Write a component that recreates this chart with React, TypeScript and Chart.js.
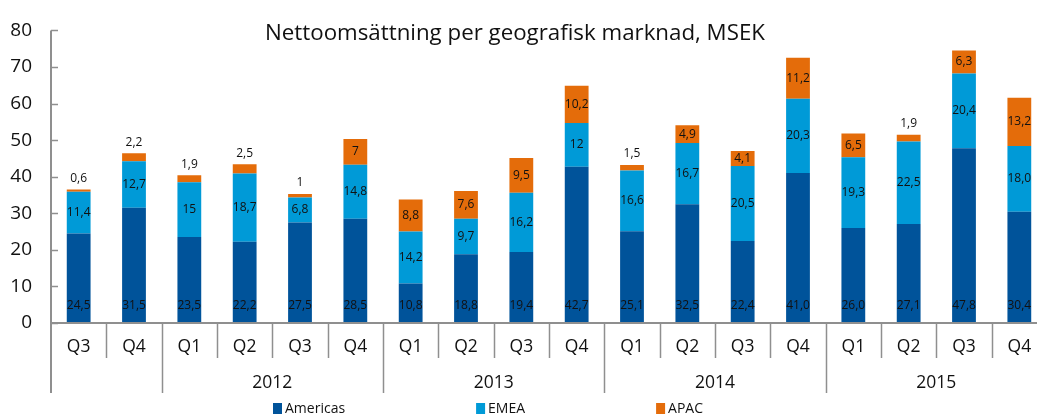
import React, { useEffect, useRef } from "react";
import { Chart, registerables } from "chart.js";

Chart.register(...registerables);

const quarters = ["Q3", "Q4", "Q1", "Q2", "Q3", "Q4", "Q1", "Q2", "Q3", "Q4", "Q1", "Q2", "Q3", "Q4", "Q1", "Q2", "Q3", "Q4"];
const years = ["", "", "2012", "2012", "2012", "2012", "2013", "2013", "2013", "2013", "2014", "2014", "2014", "2014", "2015", "2015", "2015", "2015"];
const americas = [24.5, 31.5, 23.5, 22.2, 27.5, 28.5, 10.8, 18.8, 19.4, 42.7, 25.1, 32.5, 22.4, 41.0, 26.0, 27.1, 47.8, 30.4];
const emea = [11.4, 12.7, 15, 18.7, 6.8, 14.8, 14.2, 9.7, 16.2, 12, 16.6, 16.7, 20.5, 20.3, 19.3, 22.5, 20.4, 18.0];
const apac = [0.6, 2.2, 1.9, 2.5, 1, 7, 8.8, 7.6, 9.5, 10.2, 1.5, 4.9, 4.1, 11.2, 6.5, 1.9, 6.3, 13.2];
const americasLabels = ["24,5", "31,5", "23,5", "22,2", "27,5", "28,5", "10,8", "18,8", "19,4", "42,7", "25,1", "32,5", "22,4", "41,0", "26,0", "27,1", "47,8", "30,4"];
const emeaLabels = ["11,4", "12,7", "15", "18,7", "6,8", "14,8", "14,2", "9,7", "16,2", "12", "16,6", "16,7", "20,5", "20,3", "19,3", "22,5", "20,4", "18,0"];
const apacLabels = ["0,6", "2,2", "1,9", "2,5", "1", "7", "8,8", "7,6", "9,5", "10,2", "1,5", "4,9", "4,1", "11,2", "6,5", "1,9", "6,3", "13,2"];
const seriesNames = ["Americas", "EMEA", "APAC"];
const yTicks = [0, 10, 20, 30, 40, 50, 60, 70, 80];
const title = "Nettoomsättning per geografisk marknad, MSEK";

const COLORS = ["#00539a", "#009ad7", "#e46c0a"];
const FONT = "'Open Sans', 'DejaVu Sans', sans-serif";
const AXIS = "#8f8f8f";

const customPlugin = {
  id: "custom",
  afterDraw(chart: any) {
    const ctx = chart.ctx;
    const { left, right, top, bottom } = chart.chartArea;
    const xs = chart.scales.x;
    const ys = chart.scales.y;
    ctx.save();

    // title
    ctx.fillStyle = "#111";
    ctx.font = `22.3px ${FONT}`;
    ctx.textAlign = "center";
    ctx.textBaseline = "alphabetic";
    ctx.fillText(title, 515, 40);

    // axis lines
    ctx.strokeStyle = AXIS;
    ctx.lineWidth = 2;
    ctx.beginPath();
    ctx.moveTo(left, bottom);
    ctx.lineTo(right, bottom);
    ctx.moveTo(left, top);
    ctx.lineTo(left, 393);
    ctx.stroke();

    // inner y ticks
    ctx.lineWidth = 1.5;
    ctx.beginPath();
    yTicks.forEach((v) => {
      const y = Math.round(ys.getPixelForValue(v)) + 0.5;
      ctx.moveTo(left, y);
      ctx.lineTo(left + 7, y);
    });
    ctx.stroke();

    // category separators
    const n = quarters.length;
    const step = xs.getPixelForValue(1) - xs.getPixelForValue(0);
    ctx.lineWidth = 1.5;
    ctx.beginPath();
    for (let i = 1; i < n; i++) {
      const x = Math.round(xs.getPixelForValue(i) - step / 2) + 0.5;
      const longLine = years[i] !== years[i - 1];
      ctx.moveTo(x, bottom);
      ctx.lineTo(x, longLine ? 393 : 358);
    }
    ctx.stroke();

    // quarter labels
    ctx.fillStyle = "#111";
    ctx.font = `17.5px ${FONT}`;
    ctx.textAlign = "center";
    for (let i = 0; i < n; i++) {
      ctx.fillText(quarters[i], xs.getPixelForValue(i), 352);
    }
    // year labels
    let start = 0;
    for (let i = 1; i <= n; i++) {
      if (i === n || years[i] !== years[start]) {
        if (years[start]) {
          const x = (xs.getPixelForValue(start) + xs.getPixelForValue(i - 1)) / 2;
          ctx.fillText(years[start], x, 388);
        }
        start = i;
      }
    }

    // data labels
    ctx.font = `12px ${FONT}`;
    ctx.textBaseline = "middle";
    ctx.fillStyle = "#111";
    const labelSets = [americasLabels, emeaLabels, apacLabels];
    const valueSets = [americas, emea, apac];
    for (let d = 0; d < 3; d++) {
      const meta = chart.getDatasetMeta(d);
      meta.data.forEach((bar: any, i: number) => {
        const { x, y, base } = bar.getProps(["x", "y", "base"], true);
        let ly;
        if (d === 0) ly = base - 17;
        else if (d === 1) ly = (y + base) / 2;
        else ly = valueSets[d][i] < 4 ? y - 11 : (y + base) / 2;
        ctx.fillText(labelSets[d][i], x, ly);
      });
    }

    // legend
    ctx.font = `14px ${FONT}`;
    ctx.textAlign = "left";
    ctx.textBaseline = "alphabetic";
    let lx = 273;
    for (let d = 0; d < 3; d++) {
      ctx.fillStyle = COLORS[d];
      ctx.fillRect(lx, 403, 9, 13);
      ctx.fillStyle = "#111";
      ctx.fillText(seriesNames[d], lx + 12, 413);
      lx += 12 + ctx.measureText(seriesNames[d]).width + 131;
    }

    ctx.restore();
  },
};

export default function App() {
  const ref = useRef<HTMLCanvasElement | null>(null);
  useEffect(() => {
    if (!ref.current) return;
    const chart = new Chart(ref.current, {
      type: "bar",
      data: {
        labels: quarters.map((q, i) => `${q} ${years[i]}`),
        datasets: [
          { label: seriesNames[0], data: americas, backgroundColor: COLORS[0] },
          { label: seriesNames[1], data: emea, backgroundColor: COLORS[1] },
          { label: seriesNames[2], data: apac, backgroundColor: COLORS[2] },
        ],
      },
      options: {
        responsive: false,
        animation: false,
        devicePixelRatio: 1,
        layout: { padding: { top: 21, bottom: 91, left: 0, right: 0 } },
        datasets: { bar: { barPercentage: 0.43, categoryPercentage: 1 } },
        plugins: { legend: { display: false }, tooltip: { enabled: false }, title: { display: false } },
        scales: {
          x: {
            stacked: true,
            grid: { display: false, drawTicks: false },
            border: { display: false },
            ticks: { display: false },
            afterFit: (s: any) => { s.height = 0; },
          },
          y: {
            stacked: true,
            min: 0,
            max: 80,
            afterBuildTicks: (s: any) => { s.ticks = yTicks.map((v) => ({ value: v })); },
            grid: { display: false, drawTicks: false },
            border: { display: false },
            ticks: { font: { family: FONT, size: 19 }, color: "#111", padding: 19 },
            afterFit: (s: any) => { s.width = 51; },
          },
        },
      },
      plugins: [customPlugin],
    });
    return () => chart.destroy();
  }, []);
  return (
    <div style={{ position: "fixed", left: 0, top: 0, width: 1037, height: 414, overflow: "hidden", background: "#fff" }}>
      <canvas ref={ref} width={1047} height={414} style={{ display: "block" }} />
    </div>
  );
}
